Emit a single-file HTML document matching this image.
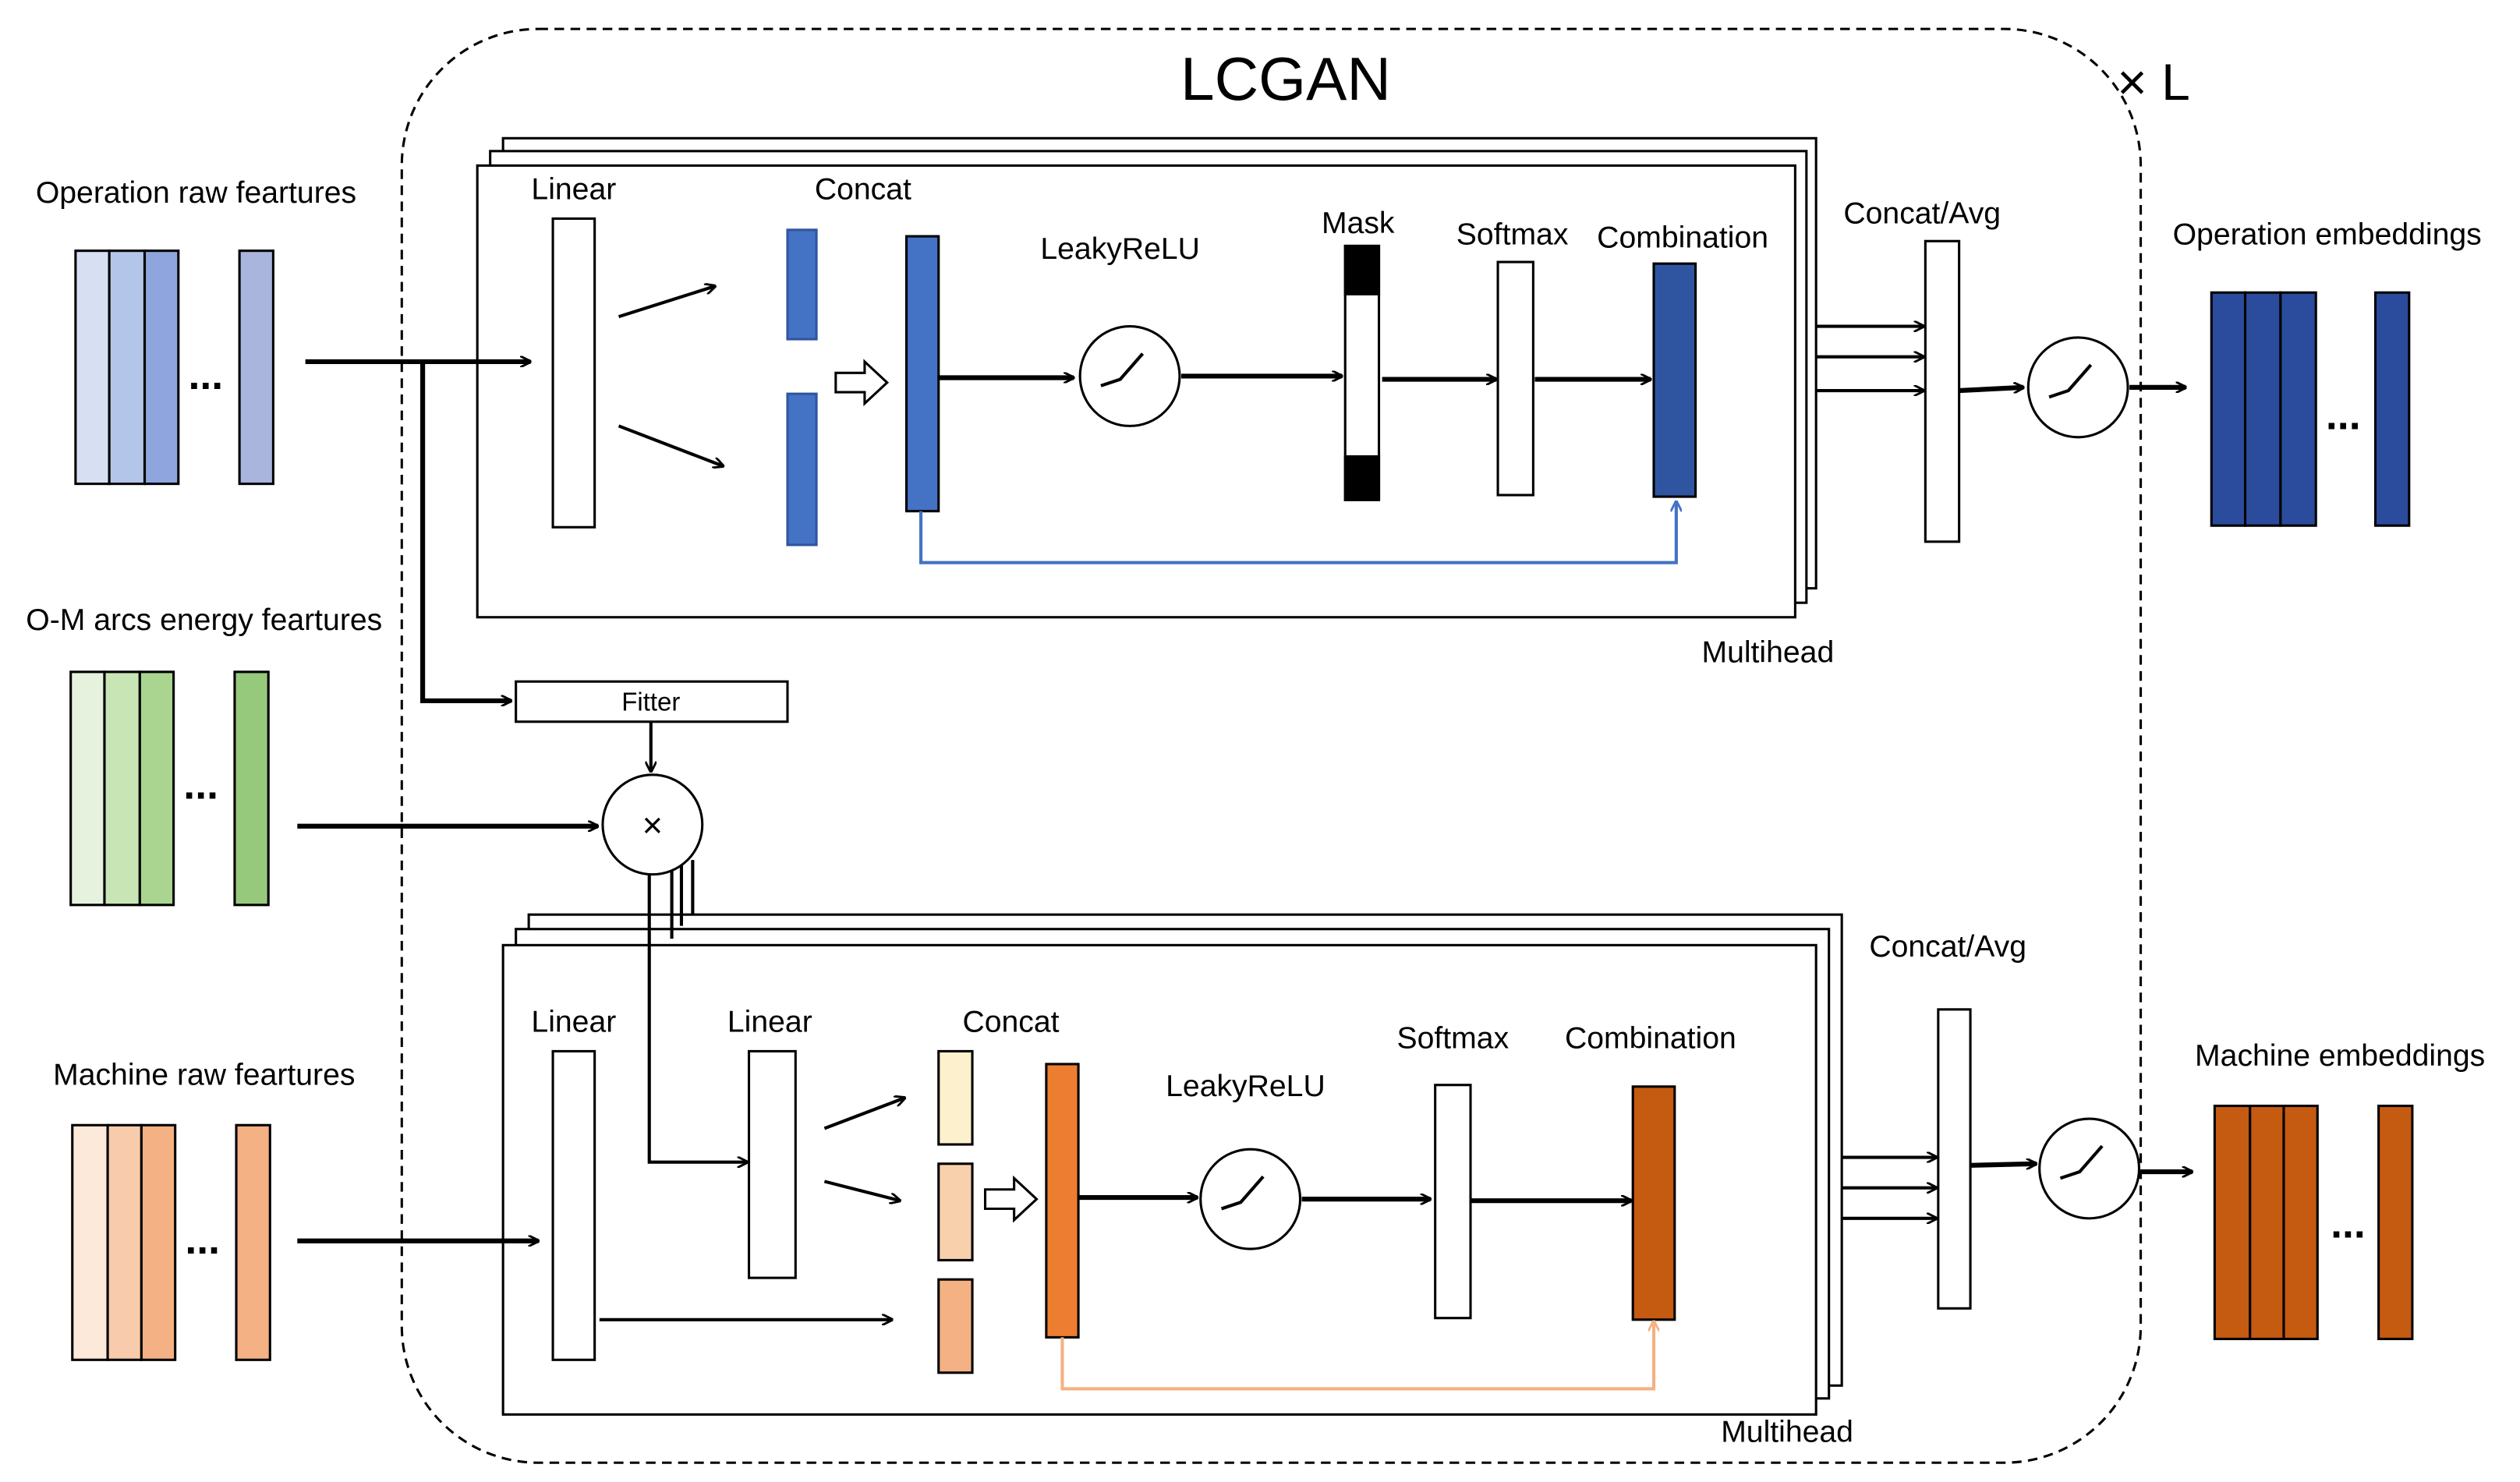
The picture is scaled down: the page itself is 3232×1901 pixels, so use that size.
<!DOCTYPE html>
<html><head><meta charset="utf-8"><style>html,body{margin:0;padding:0;background:#fff}svg{display:block}</style></head>
<body>
<svg width="3232" height="1901" viewBox="0 0 1568 922" preserveAspectRatio="none" xmlns="http://www.w3.org/2000/svg" font-family="Liberation Sans, sans-serif">
<defs>
<marker id="a" viewBox="0 0 10 10" refX="9" refY="5" markerWidth="7" markerHeight="7" orient="auto" markerUnits="userSpaceOnUse"><path d="M0,0 L10,5 L0,10" fill="none" stroke="#000" stroke-width="2"/></marker>
<marker id="ab" viewBox="0 0 10 10" refX="9" refY="5" markerWidth="7" markerHeight="7" orient="auto" markerUnits="userSpaceOnUse"><path d="M0,0 L10,5 L0,10" fill="none" stroke="#4472c4" stroke-width="2"/></marker>
<marker id="ao" viewBox="0 0 10 10" refX="9" refY="5" markerWidth="7" markerHeight="7" orient="auto" markerUnits="userSpaceOnUse"><path d="M0,0 L10,5 L0,10" fill="none" stroke="#f4b183" stroke-width="2"/></marker>
<g id="relu"><path d="M-18,6 L-6,2 L8,-14" fill="none" stroke="#000" stroke-width="2"/></g>
</defs>
<rect x="250" y="18" width="1082" height="892" rx="85" fill="none" stroke="#000" stroke-width="1.5" stroke-dasharray="6,4"/>
<text x="800" y="62" font-size="38" text-anchor="middle">LCGAN</text>
<text x="1340" y="62" font-size="32" text-anchor="middle">× L</text>

<!-- TOP -->
<rect x="313" y="86" width="817" height="280" fill="#fff" stroke="#000" stroke-width="1.5"/>
<rect x="305" y="94" width="819" height="281" fill="#fff" stroke="#000" stroke-width="1.5"/>
<rect x="297" y="103" width="820" height="281" fill="#fff" stroke="#000" stroke-width="1.5"/>
<g stroke="#000" stroke-width="1.5">
<rect x="344" y="136" width="26" height="192" fill="#fff"/>
<rect x="490" y="143" width="18" height="68" fill="#4472c4" stroke="#2f55a0"/>
<rect x="490" y="245" width="18" height="94" fill="#4472c4" stroke="#2f55a0"/>
<rect x="564" y="147" width="20" height="171" fill="#4472c4"/>
<rect x="837" y="153" width="21" height="158" fill="#fff"/>
<rect x="837" y="153" width="21" height="30" fill="#000"/>
<rect x="837" y="284" width="21" height="27" fill="#000"/>
<rect x="932" y="163" width="22" height="145" fill="#fff"/>
<rect x="1029" y="164" width="26" height="145" fill="#2f55a0"/>
<rect x="1198" y="150" width="21" height="187" fill="#fff"/>
<circle cx="703" cy="234" r="31" fill="#fff"/>
<circle cx="1293" cy="241" r="31" fill="#fff"/>
</g>
<use href="#relu" x="703" y="234"/><use href="#relu" x="1293" y="241"/>
<path d="M520,232 h18 v-7 l14,13 l-14,13 v-7 h-18z" fill="#fff" stroke="#000" stroke-width="1.5"/>
<g stroke="#000" fill="none">
<line x1="385" y1="197" x2="445" y2="178" stroke-width="2" marker-end="url(#a)"/>
<line x1="385" y1="265" x2="450" y2="290" stroke-width="2" marker-end="url(#a)"/>
<line x1="584" y1="235" x2="668" y2="235" stroke-width="3" marker-end="url(#a)"/>
<line x1="735" y1="234" x2="835" y2="234" stroke-width="3" marker-end="url(#a)"/>
<line x1="860" y1="236" x2="931" y2="236" stroke-width="3" marker-end="url(#a)"/>
<line x1="955" y1="236" x2="1027" y2="236" stroke-width="3" marker-end="url(#a)"/>
<line x1="1130" y1="203" x2="1197" y2="203" stroke-width="2" marker-end="url(#a)"/>
<line x1="1130" y1="222" x2="1197" y2="222" stroke-width="2" marker-end="url(#a)"/>
<line x1="1130" y1="243" x2="1197" y2="243" stroke-width="2" marker-end="url(#a)"/>
<line x1="1219" y1="243" x2="1259" y2="241" stroke-width="3" marker-end="url(#a)"/>
<line x1="1325" y1="241" x2="1360" y2="241" stroke-width="3" marker-end="url(#a)"/>
<line x1="190" y1="225" x2="330" y2="225" stroke-width="3" marker-end="url(#a)"/>
<polyline points="263,225 263,436 318,436" stroke-width="3" marker-end="url(#a)"/>
<line x1="405" y1="449" x2="405" y2="480" stroke-width="2" marker-end="url(#a)"/>
<line x1="185" y1="514" x2="372" y2="514" stroke-width="3" marker-end="url(#a)"/>
</g>
<polyline points="573,318 573,350 1043,350 1043,312" fill="none" stroke="#4472c4" stroke-width="2" marker-end="url(#ab)"/>
<rect x="321" y="424" width="169" height="25" fill="#fff" stroke="#000" stroke-width="1.5"/>
<text x="405" y="442" font-size="16" text-anchor="middle">Fitter</text>

<!-- left bars -->
<g stroke="#000" stroke-width="1.5">
<rect x="47" y="156" width="21" height="145" fill="#d7dff3"/><rect x="68" y="156" width="22" height="145" fill="#b4c5ea"/><rect x="90" y="156" width="21" height="145" fill="#8ea6dd"/><rect x="149" y="156" width="21" height="145" fill="#aab5de"/>
<rect x="44" y="418" width="21" height="145" fill="#e6f2dd"/><rect x="65" y="418" width="22" height="145" fill="#c8e6b5"/><rect x="87" y="418" width="21" height="145" fill="#a9d590"/><rect x="146" y="418" width="21" height="145" fill="#97c97c"/>
<rect x="45" y="700" width="22" height="146" fill="#fde9d9"/><rect x="67" y="700" width="21" height="146" fill="#f8cbad"/><rect x="88" y="700" width="21" height="146" fill="#f4b183"/><rect x="147" y="700" width="21" height="146" fill="#f4b183"/>
<rect x="1376" y="182" width="21" height="145" fill="#2b4c9c"/><rect x="1397" y="182" width="22" height="145" fill="#2b4c9c"/><rect x="1419" y="182" width="22" height="145" fill="#2b4c9c"/><rect x="1478" y="182" width="21" height="145" fill="#2b4c9c"/>
<rect x="1378" y="688" width="22" height="145" fill="#c55a11"/><rect x="1400" y="688" width="21" height="145" fill="#c55a11"/><rect x="1421" y="688" width="21" height="145" fill="#c55a11"/><rect x="1480" y="688" width="21" height="145" fill="#c55a11"/>
</g>
<g font-size="26" font-weight="bold" text-anchor="middle">
<text x="128" y="242">...</text><text x="125" y="497">...</text><text x="126" y="780">...</text><text x="1458" y="267">...</text><text x="1461" y="770">...</text>
</g>

<!-- BOTTOM -->
<rect x="329" y="569" width="817" height="293" fill="#fff" stroke="#000" stroke-width="1.5"/>
<rect x="321" y="578" width="817" height="292" fill="#fff" stroke="#000" stroke-width="1.5"/>
<rect x="313" y="588" width="817" height="292" fill="#fff" stroke="#000" stroke-width="1.5"/>
<g stroke="#000" stroke-width="2" fill="none">
<line x1="418" y1="540" x2="418" y2="584"/><line x1="424" y1="538" x2="424" y2="576"/><line x1="431" y1="535" x2="431" y2="569"/>
<polyline points="404,542 404,723 465,723" marker-end="url(#a)"/>
</g>
<circle cx="406" cy="513" r="31" fill="#fff" stroke="#000" stroke-width="1.5"/>
<text x="406" y="521" font-size="22" text-anchor="middle">×</text>
<g stroke="#000" stroke-width="1.5">
<rect x="344" y="654" width="26" height="192" fill="#fff"/>
<rect x="466" y="654" width="29" height="141" fill="#fff"/>
<rect x="584" y="654" width="21" height="58" fill="#fdf0cc"/>
<rect x="584" y="724" width="21" height="60" fill="#f8d0ac"/>
<rect x="584" y="796" width="21" height="58" fill="#f4b183"/>
<rect x="651" y="662" width="20" height="170" fill="#ed7d31"/>
<rect x="893" y="675" width="22" height="145" fill="#fff"/>
<rect x="1016" y="676" width="26" height="145" fill="#c55a11"/>
<rect x="1206" y="628" width="20" height="186" fill="#fff"/>
<circle cx="778" cy="746" r="31" fill="#fff"/>
<circle cx="1300" cy="727" r="31" fill="#fff"/>
</g>
<use href="#relu" x="778" y="746"/><use href="#relu" x="1300" y="727"/>
<path d="M613,740 h18 v-7 l14,13 l-14,13 v-7 h-18z" fill="#fff" stroke="#000" stroke-width="1.5"/>
<g stroke="#000" fill="none">
<line x1="513" y1="702" x2="563" y2="683" stroke-width="2" marker-end="url(#a)"/>
<line x1="513" y1="735" x2="560" y2="747" stroke-width="2" marker-end="url(#a)"/>
<line x1="373" y1="821" x2="555" y2="821" stroke-width="2" marker-end="url(#a)"/>
<line x1="185" y1="772" x2="335" y2="772" stroke-width="3" marker-end="url(#a)"/>
<line x1="671" y1="745" x2="745" y2="745" stroke-width="3" marker-end="url(#a)"/>
<line x1="810" y1="746" x2="890" y2="746" stroke-width="3" marker-end="url(#a)"/>
<line x1="915" y1="747" x2="1015" y2="747" stroke-width="3" marker-end="url(#a)"/>
<line x1="1146" y1="720" x2="1205" y2="720" stroke-width="2" marker-end="url(#a)"/>
<line x1="1146" y1="739" x2="1205" y2="739" stroke-width="2" marker-end="url(#a)"/>
<line x1="1146" y1="758" x2="1205" y2="758" stroke-width="2" marker-end="url(#a)"/>
<line x1="1226" y1="725" x2="1267" y2="724" stroke-width="3" marker-end="url(#a)"/>
<line x1="1332" y1="729" x2="1364" y2="729" stroke-width="3" marker-end="url(#a)"/>
</g>
<polyline points="661,832 661,864 1029,864 1029,822" fill="none" stroke="#f4b183" stroke-width="2" marker-end="url(#ao)"/>

<g font-size="19" text-anchor="middle">
<text x="357" y="124">Linear</text><text x="537" y="124">Concat</text><text x="697" y="161">LeakyReLU</text>
<text x="845" y="145">Mask</text><text x="941" y="152">Softmax</text><text x="1047" y="154">Combination</text>
<text x="1196" y="139">Concat/Avg</text><text x="1100" y="412">Multihead</text>
<text x="1448" y="152">Operation embeddings</text><text x="122" y="126">Operation raw feartures</text>
<text x="127" y="392">O-M arcs energy feartures</text><text x="127" y="675">Machine raw feartures</text>
<text x="629" y="642">Concat</text><text x="357" y="642">Linear</text><text x="479" y="642">Linear</text>
<text x="775" y="682">LeakyReLU</text><text x="904" y="652">Softmax</text><text x="1027" y="652">Combination</text>
<text x="1212" y="595">Concat/Avg</text><text x="1112" y="897">Multihead</text><text x="1456" y="663">Machine embeddings</text>
</g>
</svg>
</body></html>
